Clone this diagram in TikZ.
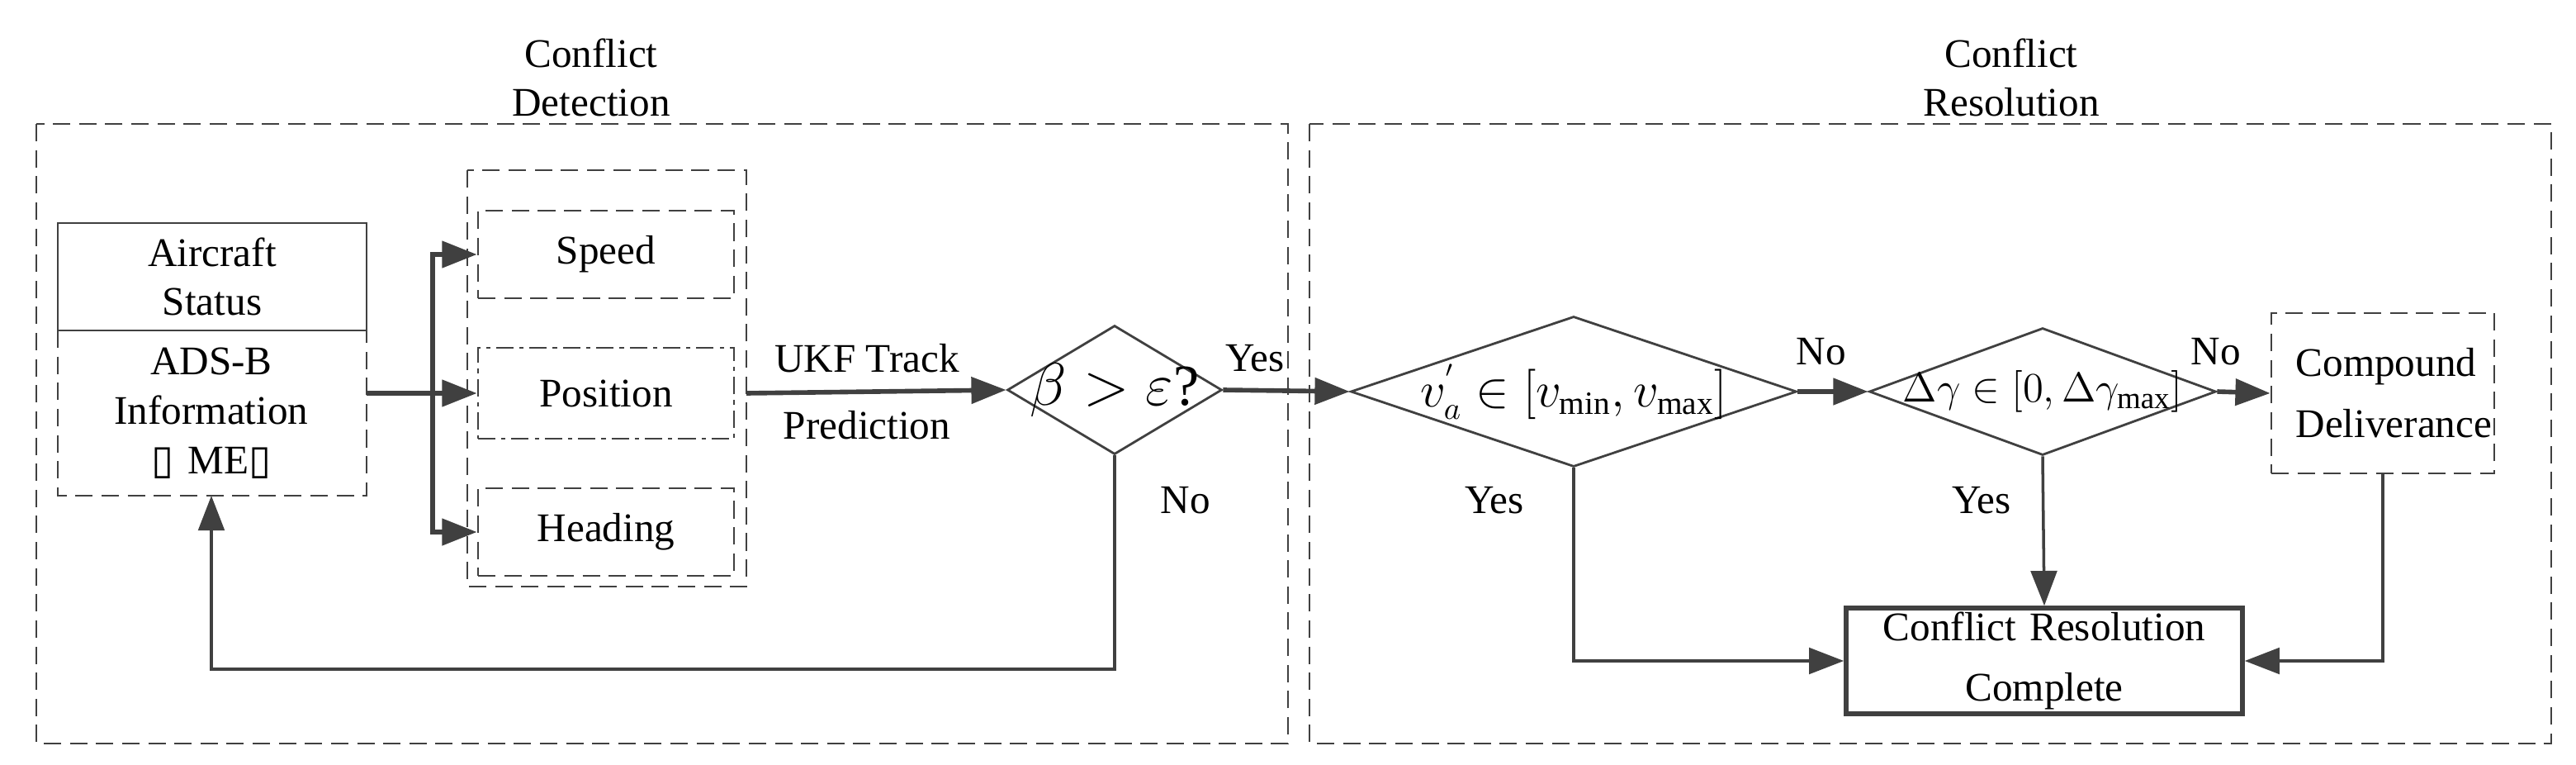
\documentclass[tikz,border=0pt]{standalone}
\usepackage{fontspec}
\setmainfont{Liberation Serif}
\newfontfamily\symfont{DejaVu Sans}
\usepackage{amsmath}
\usetikzlibrary{arrows.meta,shapes.geometric,positioning}
\definecolor{linegray}{HTML}{404040}
\begin{document}
\begin{tikzpicture}
  [x=0.02cm,y=-0.02cm,
 every node/.style={font=\fontsize{14}{17}\selectfont},
 frame/.style={draw=linegray, thick, dash pattern=on 6pt off 3pt},
 term/.style={
  rectangle,
  draw=linegray,
  thick,
  text width=6.5em,
  align=center,
  inner sep=0pt},
 decision/.style={
  diamond,
  draw=linegray,
  thick,
  inner sep=0pt},
 lbl/.style={align=center, inner sep=1pt},
 tip/.style={-{Triangle[length=12pt,width=9pt]}, line width=1.6pt, draw=linegray},
 flow/.style={-{Triangle[length=12pt,width=9pt]}, line width=1pt, draw=linegray}]
\useasboundingbox (0,0) rectangle (1560,463);
% frames
\draw[frame] (22,75) rectangle (780,450);
\draw[frame] (793,75) rectangle (1545,450);
\node (detect) [lbl] at (358,47) {Conflict\\Detection};
\node (resolve) [lbl] at (1218,47) {Conflict\\Resolution};
% detection part
\node (status) [term, minimum width=187*0.02cm, minimum height=65*0.02cm, text width=8em] at (128.5,167.5) {Aircraft Status};
\draw[frame] (35,200) -- (35,300) -- (222,300) -- (222,200);
\node (adsb) [lbl] at (128,250) {ADS-B\\Information\\{\symfont▯}\,\,ME{\symfont▯}};
\coordinate (adsbout) at (222,238);
\coordinate (adsbin) at (128,300);
\draw[frame, thin] (283,103) rectangle (452,355);
\node (speed) [term, frame, minimum width=155*0.02cm, minimum height=53*0.02cm] at (367,154) {Speed};
\node (position) [term, draw=linegray, thick, dash pattern=on 6pt off 2pt on 1.5pt off 2pt, minimum width=155*0.02cm, minimum height=55*0.02cm] at (367,238) {Position};
\node (heading) [term, frame, minimum width=155*0.02cm, minimum height=53*0.02cm] at (367,322) {Heading};
\coordinate (groupout) at (452,238);
\coordinate (split) at (262,238);
\node (beta) [decision, minimum width=130*0.02cm, minimum height=78*0.02cm] at (675,236) {};
\node (betatxt) at (beta) {\fontsize{20}{22}\selectfont$\beta>\varepsilon$?};
\node (ukf) [lbl] at (525,237) {UKF Track\\[6pt]Prediction};
% resolution part
\node (vcheck) [decision, minimum width=270*0.02cm, minimum height=91*0.02cm] at (953,237) {};
\node (vtxt) at (vcheck) {\fontsize{16}{18}\selectfont$v_a^{'}\in[v_{\min},v_{\max}]$};
\node (gcheck) [decision, minimum width=210*0.02cm, minimum height=77*0.02cm] at (1237,237) {};
\node (gtxt) at (gcheck) {\fontsize{15}{18}\selectfont$\Delta\gamma\in[0,\Delta\gamma_{\max}]$};
\node (compound) [term, frame, minimum width=135*0.02cm, minimum height=97*0.02cm, text width=6em] at (1443,238) {Compound\\[4pt]Deliverance};
\node (complete) [term, line width=1.6pt, minimum width=240*0.02cm, minimum height=64*0.02cm, text width=12em] at (1238,400) {Conflict Resolution\\[4pt]Complete};
% labels
\node (yes1) [lbl] at (760,217) {Yes};
\node (no1) [lbl] at (718,303) {No};
\node (no2) [lbl] at (1103,213) {No};
\node (no3) [lbl] at (1342,213) {No};
\node (yes2) [lbl] at (905,303) {Yes};
\node (yes3) [lbl] at (1200,303) {Yes};
% connectors
\draw[tip] (adsbout) -- (position.west);
\draw[tip] (split) |- (speed.west);
\draw[tip] (split) |- (heading.west);
\draw[tip] (groupout) -- (beta.west);
\draw[tip] (beta.east) -- (vcheck.west);
\draw[flow] (beta.south) -- (675,405) -| (adsbin);
\draw[tip] (vcheck.east) -- (gcheck.west);
\draw[tip] (gcheck.east) -- (compound.west);
\draw[flow] (vcheck.south) |- (complete.west);
\draw[flow] (gcheck.south) -- (complete.north);
\draw[flow] (compound.south) |- (complete.east);
\end{tikzpicture}
\end{document}
